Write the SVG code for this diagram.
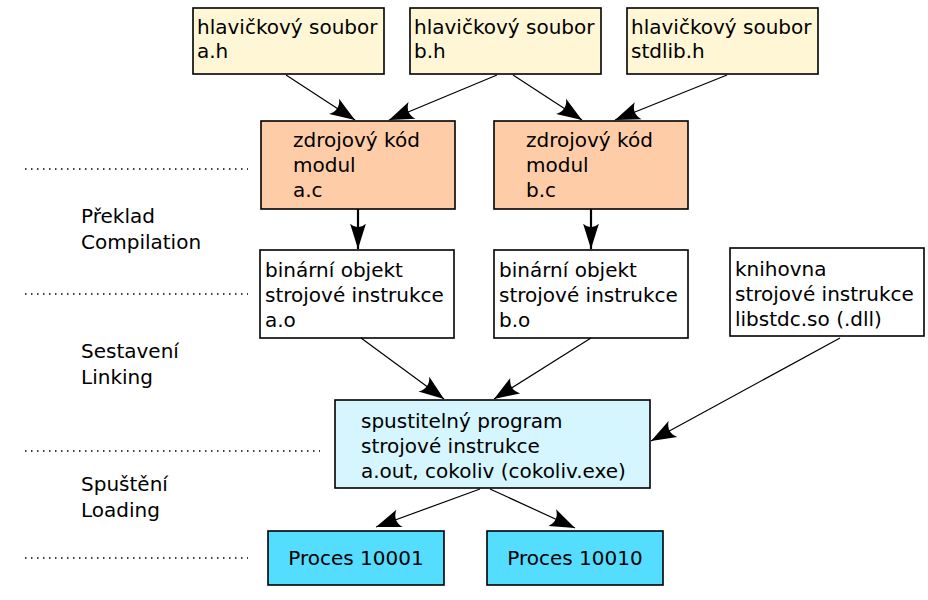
<svg xmlns="http://www.w3.org/2000/svg" width="928" height="600" viewBox="0 0 928 600">
<defs>
<style>
text{font-family:"DejaVu Sans","Liberation Sans",sans-serif;font-size:20px;fill:#000}
.box{stroke:#000;stroke-width:1.6}
.hdr{fill:#fff6d5}
.src{fill:#ffcca8}
.obj{fill:#fff}
.exe{fill:#d5f6ff}
.proc{fill:#55ddff}
.con{stroke:#000;stroke-width:1.2;fill:none}
.thick{stroke-width:2.2}
.dot{stroke:#000;stroke-width:1.5;stroke-dasharray:1.5 4.5;fill:none}
</style>
<marker id="ah" markerUnits="userSpaceOnUse" markerWidth="30" markerHeight="30" refX="0" refY="0" viewBox="-16 -8 18 16" orient="auto" overflow="visible">
<path d="M0,0 L-15,-5.5 Q-10.5,0 -15,5.5 Z" fill="#000"/>
</marker>
<marker id="ahb" markerUnits="userSpaceOnUse" markerWidth="30" markerHeight="30" refX="0" refY="0" viewBox="-17 -8 19 16" orient="auto" overflow="visible">
<path d="M0,0 L-16,-5 Q-11.5,0 -16,5 Z" fill="#000"/>
</marker>
</defs>
<g id="dotted">
<line class="dot" x1="25" y1="169" x2="248" y2="169"/>
<line class="dot" x1="25" y1="294" x2="248" y2="294"/>
<line class="dot" x1="25" y1="451" x2="320" y2="451"/>
<line class="dot" x1="25" y1="558" x2="248" y2="558"/>
</g>
<g id="labels">
<text x="81" y="223">Překlad</text>
<text x="81" y="249">Compilation</text>
<text x="81" y="358">Sestavení</text>
<text x="81" y="384">Linking</text>
<text x="81" y="491">Spuštění</text>
<text x="81" y="517">Loading</text>
</g>
<g id="hdr-a">
<rect class="box hdr" x="193" y="8" width="191" height="66"/>
<text x="197" y="34">hlavičkový soubor</text>
<text x="197" y="58">a.h</text>
</g>
<g id="hdr-b">
<rect class="box hdr" x="410" y="8" width="191" height="66"/>
<text x="414" y="34">hlavičkový soubor</text>
<text x="414" y="58">b.h</text>
</g>
<g id="hdr-stdlib">
<rect class="box hdr" x="627" y="8" width="191" height="66"/>
<text x="631" y="34">hlavičkový soubor</text>
<text x="631" y="58">stdlib.h</text>
</g>
<g id="src-a">
<rect class="box src" x="261" y="121" width="194" height="88"/>
<text x="293" y="147">zdrojový kód</text>
<text x="293" y="172">modul</text>
<text x="293" y="197">a.c</text>
</g>
<g id="src-b">
<rect class="box src" x="494" y="121" width="194" height="88"/>
<text x="526" y="147">zdrojový kód</text>
<text x="526" y="172">modul</text>
<text x="526" y="197">b.c</text>
</g>
<g id="obj-a">
<rect class="box obj" x="260" y="250" width="194" height="88"/>
<text x="265" y="277">binární objekt</text>
<text x="265" y="302">strojové instrukce</text>
<text x="265" y="327">a.o</text>
</g>
<g id="obj-b">
<rect class="box obj" x="494" y="250" width="194" height="88"/>
<text x="499" y="277">binární objekt</text>
<text x="499" y="302">strojové instrukce</text>
<text x="499" y="327">b.o</text>
</g>
<g id="lib">
<rect class="box obj" x="730" y="248" width="194" height="88"/>
<text x="735" y="276">knihovna</text>
<text x="735" y="301">strojové instrukce</text>
<text x="735" y="326">libstdc.so (.dll)</text>
</g>
<g id="exe">
<rect class="box exe" x="335" y="400" width="315" height="88"/>
<text x="361" y="428">spustitelný program</text>
<text x="361" y="453">strojové instrukce</text>
<text x="361" y="478">a.out, cokoliv (cokoliv.exe)</text>
</g>
<g id="proc1">
<rect class="box proc" x="268" y="531" width="176" height="54"/>
<text x="356" y="565" text-anchor="middle">Proces 10001</text>
</g>
<g id="proc2">
<rect class="box proc" x="487" y="531" width="176" height="54"/>
<text x="575" y="565" text-anchor="middle">Proces 10010</text>
</g>
<g id="connectors">
<line class="con" x1="286" y1="75" x2="355" y2="120" marker-end="url(#ah)"/>
<line class="con" x1="497" y1="75" x2="389" y2="120" marker-end="url(#ah)"/>
<line class="con" x1="513" y1="75" x2="582" y2="120" marker-end="url(#ah)"/>
<line class="con" x1="727" y1="75" x2="615" y2="120" marker-end="url(#ah)"/>
<line class="con thick" x1="358" y1="209" x2="358" y2="249" marker-end="url(#ahb)"/>
<line class="con thick" x1="591" y1="209" x2="591" y2="249" marker-end="url(#ahb)"/>
<line class="con" x1="361" y1="338" x2="444" y2="399" marker-end="url(#ah)"/>
<line class="con" x1="591" y1="338" x2="494" y2="399" marker-end="url(#ah)"/>
<line class="con" x1="840" y1="338" x2="651" y2="441" marker-end="url(#ah)"/>
<line class="con" x1="480" y1="489" x2="376" y2="527" marker-end="url(#ah)"/>
<line class="con" x1="490" y1="489" x2="575" y2="528" marker-end="url(#ah)"/>
</g>
</svg>
